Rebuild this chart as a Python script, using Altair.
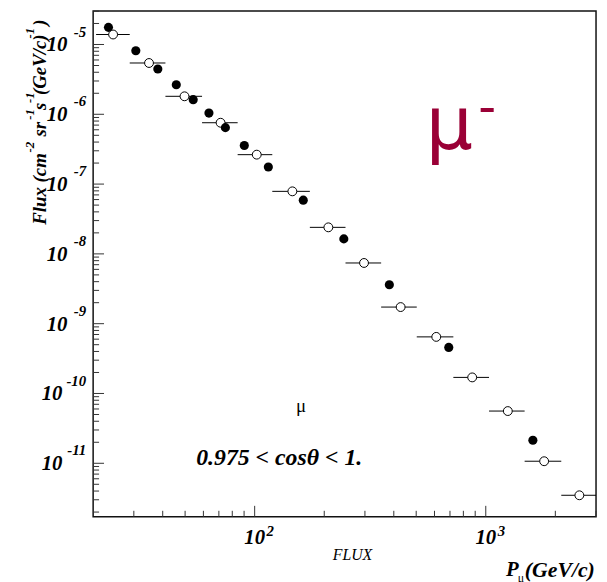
import altair as alt
import pandas as pd

# ---- data ----
filled_p = [23.3, 30.6, 38.1, 45.8, 54.2, 63.4, 74.7, 90.2, 114.6, 162.3, 243.1, 382.6, 691.6, 1599]
filled_flux = [1.76e-5, 8.14e-6, 4.46e-6, 2.65e-6, 1.62e-6, 1.04e-6, 6.44e-7, 3.57e-7, 1.76e-7,
               5.88e-8, 1.64e-8, 3.61e-9, 4.57e-10, 2.14e-11]
open_p = [24.4, 34.9, 49.7, 71.2, 102.1, 145.6, 208.4, 297.3, 428.2, 610.7, 873.5, 1245.6, 1789, 2541]
open_flux = [1.39e-5, 5.43e-6, 1.81e-6, 7.57e-7, 2.64e-7, 7.87e-8, 2.40e-8, 7.41e-9, 1.73e-9,
             6.47e-10, 1.70e-10, 5.60e-11, 1.07e-11, 3.48e-12]
open_lo = [20.6, 28.8, 41.1, 59.2, 84.4, 119.2, 173.3, 247.2, 352.6, 502.8, 724, 1033, 1473, 2122]
open_hi = [28.8, 41.1, 59.2, 84.4, 119.2, 173.3, 247.2, 352.6, 502.8, 724, 1033, 1473, 2122, 3000]

x_domain = [20, 3000]
y_domain = [1.714e-12, 3.03e-5]

y_exponents = [-5, -6, -7, -8, -9, -10, -11]
x_exponents = [2, 3]
x_minor = [30, 40, 50, 60, 70, 80, 90, 200, 300, 400, 500, 600, 700, 800, 900, 2000, 3000]
y_minor = [k * 10.0 ** e for e in range(-12, -4) for k in range(2, 10)
           if y_domain[0] <= k * 10.0 ** e <= y_domain[1]]

W, H = 508, 511
SERIF = "Liberation Serif"
AXC = "#333333"
RED = "#9a0036"

xs = alt.Scale(type="log", domain=x_domain)
ys = alt.Scale(type="log", domain=y_domain)

filled_df = pd.DataFrame({"p": filled_p, "flux": filled_flux})
open_df = pd.DataFrame({"p": open_p, "flux": open_flux, "lo": open_lo, "hi": open_hi})
ymaj_df = pd.DataFrame({"v": [10.0 ** e for e in y_exponents], "lab": [str(e) for e in y_exponents],
                        "e": y_exponents})
ymin_df = pd.DataFrame({"v": y_minor})
xmaj_df = pd.DataFrame({"v": [10.0 ** e for e in x_exponents], "lab": [str(e) for e in x_exponents]})
xmin_df = pd.DataFrame({"v": x_minor})
one = pd.DataFrame({"a": [0]})


def txt(text, x, y, size, color="black", style="italic", weight="bold", align="left",
        baseline="alphabetic", angle=0, font=SERIF):
    return alt.Chart(one).mark_text(
        text=text, fontSize=size, font=font, fontStyle=style, fontWeight=weight,
        color=color, align=align, baseline=baseline, angle=angle
    ).encode(x=alt.value(x), y=alt.value(y))


X = lambda f: alt.X(f, type="quantitative", scale=xs, axis=None)
Y = lambda f: alt.Y(f, type="quantitative", scale=ys, axis=None)

bars = alt.Chart(open_df).mark_rule(color="black", strokeWidth=1).encode(
    x=X("lo"), x2="hi", y=Y("flux"))
opens = alt.Chart(open_df).mark_point(shape="circle", filled=True, fill="white", stroke="black",
                                      strokeWidth=1, size=80, opacity=1).encode(x=X("p"), y=Y("flux"))
fills = alt.Chart(filled_df).mark_point(shape="circle", filled=True, color="black", size=85,
                                        opacity=1).encode(x=X("p"), y=Y("flux"))

ytick_maj = alt.Chart(ymaj_df).mark_rule(color=AXC, strokeWidth=1).encode(
    y=Y("v"), x=alt.value(0), x2=alt.value(11))
ytick_min = alt.Chart(ymin_df).mark_rule(color=AXC, strokeWidth=1).encode(
    y=Y("v"), x=alt.value(0), x2=alt.value(6))
xtick_maj = alt.Chart(xmaj_df).mark_rule(color=AXC, strokeWidth=1).encode(
    x=X("v"), y=alt.value(H), y2=alt.value(H - 11))
xtick_min = alt.Chart(xmin_df).mark_rule(color=AXC, strokeWidth=1).encode(
    x=X("v"), y=alt.value(H), y2=alt.value(H - 6))

lab_style = dict(font=SERIF, fontStyle="italic", fontWeight="bold", color="black")
y10_a = alt.Chart(ymaj_df).transform_filter("datum.e > -10").mark_text(
    text="10", fontSize=21, align="right", baseline="middle", dx=-26, dy=1, **lab_style
).encode(y=Y("v"), x=alt.value(0))
y10_b = alt.Chart(ymaj_df).transform_filter("datum.e <= -10").mark_text(
    text="10", fontSize=21, align="right", baseline="middle", dx=-31, dy=1, **lab_style
).encode(y=Y("v"), x=alt.value(0))
yexp = alt.Chart(ymaj_df).mark_text(
    fontSize=15, align="right", baseline="middle", dx=-7, dy=-13, **lab_style
).encode(y=Y("v"), x=alt.value(0), text="lab:N")

x10 = alt.Chart(xmaj_df).mark_text(
    text="10", fontSize=21, align="center", baseline="middle", **lab_style
).encode(x=X("v"), y=alt.value(H + 22))
xexp = alt.Chart(xmaj_df).mark_text(
    fontSize=15, align="left", baseline="middle", dx=12, **lab_style
).encode(x=X("v"), y=alt.value(H + 14), text="lab:N")

# y-axis title pieces (rotated, reading upward)
ytitle = [
    txt("Flux (cm", -48, 216, 19, angle=270),
    txt("-2", -60, 143, 13, angle=270),
    txt("sr", -48, 127, 19, angle=270),
    txt("-1", -60, 110, 13, angle=270),
    txt("s", -48, 100, 19, angle=270),
    txt("-1", -60, 93, 13, angle=270),
    txt("(GeV/c)", -48, 85, 19, angle=270),
    txt("-1", -60, 28, 13, angle=270),
    txt(")", -48, 15, 19, angle=270),
]

annot = [
    txt("FLUX", 262, H + 39, 16, weight="normal", align="center", baseline="middle"),
    txt("P", 417, H + 54, 21, baseline="middle"),
    txt("μ", 429, H + 62, 12, weight="normal", style="normal", baseline="middle"),
    txt("(GeV/c)", 436, H + 54, 22, baseline="middle"),
    txt("μ", 210, 405, 19, weight="normal", style="normal", align="center"),
    txt("0.975 < cosθ < 1.", 188, 452, 24, align="center", baseline="middle"),
    txt("μ", 336, 140, 75, color=RED, style="normal", weight="normal", font="DejaVu Sans"),
    txt("-", 398, 114, 50, color=RED, style="normal", weight="normal", font="DejaVu Sans",
        align="center"),
]

chart = alt.layer(
    ytick_min, ytick_maj, xtick_min, xtick_maj,
    bars, opens, fills,
    y10_a, y10_b, yexp, x10, xexp,
    *ytitle, *annot
).properties(
    width=W, height=H,
    autosize=alt.AutoSizeParams(type="none"),
    padding={"left": 86, "top": 0, "right": 3, "bottom": 63},
    background="white",
).configure_view(stroke="#111111", strokeWidth=1.5)

chart.save("out.html", embed_options={"renderer": "svg", "actions": False})
